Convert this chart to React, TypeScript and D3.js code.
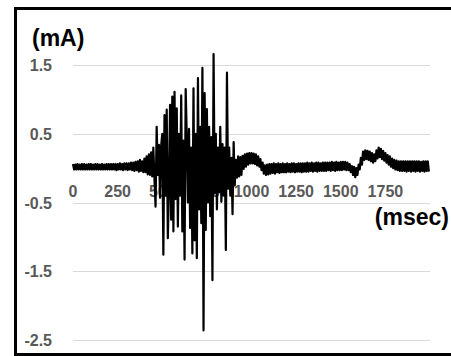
import React, { useEffect, useRef } from 'react';
import * as d3 from 'd3';

const TIME_STEP_MS = 6.25;
const CURRENT_MA = [
  0.06, -0.02, 0.05, -0.02, 0.06, -0.02, 0.05, -0.02, 0.06, -0.02, 0.06, -0.02, 0.05, -0.02, 0.06, -0.02,
  0.06, -0.02, 0.05, -0.02, 0.06, -0.02, 0.06, -0.02, 0.05, -0.02, 0.06, -0.02, 0.05, -0.02, 0.06, -0.02,
  0.06, -0.02, 0.06, -0.02, 0.06, -0.02, 0.06, -0.03, 0.06, -0.02, 0.07, -0.02, 0.06, -0.03, 0.07, -0.02,
  0.07, -0.03, 0.07, -0.02, 0.08, -0.03, 0.08, -0.04, 0.09, -0.03, 0.1, -0.05, 0.12, -0.04, 0.1, -0.06,
  0.14, -0.06, 0.17, -0.09, 0.2, -0.1, 0.23, -0.12, 0.3, -0.15, -0.56, 0.6, -0.1, 0.34, -0.43, 0.32,
  0.5, -1.26, 0.77, -0.4, 0.85, -1.02, -0.3, 0.92, -0.75, 1.04, -0.92, 1.11, -0.45, 0.87, -0.85, 0.5,
  -0.4, 1.06, -0.92, 0.4, -1.33, 1.15, 0.45, -0.5, 0.57, -0.87, 0.3, -1.24, 1.16, -1.05, 0.5, -1.31,
  1.31, -0.6, 0.6, -0.8, 1.46, -2.36, 1.09, -0.9, 0.86, -0.5, 0.6, -0.7, 0.45, -1.63, 1.66, -0.36,
  0.5, -0.6, 0.3, -0.35, 0.6, -0.49, 0.35, -0.4, 0.3, -1.19, 1.39, -0.3, 0.3, -0.4, 0.15, -0.67,
  0.38, -0.25, 0.12, -0.14, 0.17, -0.12, 0.16, -0.1, 0.18, -0.01, 0.2, 0.02, 0.21, 0.05, 0.22, 0.07,
  0.22, 0.07, 0.21, 0.06, 0.2, 0.04, 0.17, 0.02, 0.13, -0.03, 0.08, -0.08, 0.04, -0.1, 0.05, -0.09,
  0.06, -0.08, 0.06, -0.07, 0.07, -0.08, 0.06, -0.06, 0.07, -0.07, 0.06, -0.06, 0.07, -0.06, 0.06, -0.06,
  0.07, -0.05, 0.06, -0.06, 0.07, -0.05, 0.07, -0.06, 0.06, -0.05, 0.07, -0.05, 0.07, -0.06, 0.07, -0.05,
  0.07, -0.05, 0.08, -0.05, 0.07, -0.04, 0.08, -0.05, 0.07, -0.04, 0.08, -0.05, 0.08, -0.04, 0.07, -0.04,
  0.08, -0.04, 0.08, -0.04, 0.08, -0.03, 0.08, -0.04, 0.09, -0.03, 0.08, -0.04, 0.09, -0.03, 0.08, -0.03,
  0.09, -0.03, 0.09, -0.02, 0.09, -0.03, 0.08, -0.03, 0.06, -0.06, 0.03, -0.1, 0.02, -0.13, 0.0, -0.1,
  0.05, -0.02, 0.15, 0.05, 0.24, 0.12, 0.26, 0.13, 0.25, 0.12, 0.24, 0.1, 0.22, 0.08, 0.2, 0.1,
  0.26, 0.14, 0.3, 0.16, 0.28, 0.13, 0.25, 0.11, 0.22, 0.08, 0.19, 0.05, 0.17, 0.02, 0.14, 0.0,
  0.12, -0.02, 0.11, -0.03, 0.1, -0.04, 0.1, -0.04, 0.1, -0.04, 0.1, -0.05, 0.1, -0.04, 0.1, -0.05,
  0.1, -0.04, 0.1, -0.05, 0.1, -0.04, 0.1, -0.05, 0.09, -0.04, 0.1, -0.05, 0.1, -0.04, 0.1, -0.05,
];
const X_TICKS = [0, 250, 500, 750, 1000, 1250, 1500, 1750];
const Y_TICKS = [-2.5, -1.5, -0.5, 0.5, 1.5];

const FONT = '"Liberation Sans", Arial, sans-serif';

export default function App() {
  const ref = useRef<SVGSVGElement>(null);

  useEffect(() => {
    if (!ref.current) return;
    const svg = d3.select(ref.current);
    svg.selectAll('*').remove();

    const x = d3.scaleLinear().domain([0, 2000]).range([73, 430]);
    const y = d3.scaleLinear().domain([-2.5, 1.5]).range([340, 65]);

    // frame
    svg.append('rect')
      .attr('x', 15.5)
      .attr('y', 8.5)
      .attr('width', 450)
      .attr('height', 346)
      .attr('fill', 'white')
      .attr('stroke', 'black')
      .attr('stroke-width', 3);

    // gridlines
    svg.append('g')
      .selectAll('line')
      .data(Y_TICKS)
      .enter()
      .append('line')
      .attr('x1', x(0))
      .attr('x2', x(2000))
      .attr('y1', d => Math.round(y(d)) + 0.5)
      .attr('y2', d => Math.round(y(d)) + 0.5)
      .attr('stroke', '#d9d9d9')
      .attr('stroke-width', 1);

    // y labels
    svg.append('g')
      .selectAll('text')
      .data(Y_TICKS)
      .enter()
      .append('text')
      .text(d => d.toFixed(1))
      .attr('x', 52)
      .attr('y', d => y(d) + 6)
      .attr('text-anchor', 'end')
      .attr('font-family', FONT)
      .attr('font-weight', 'bold')
      .attr('font-size', '16px')
      .attr('fill', '#595959');

    // x labels along zero
    svg.append('g')
      .selectAll('text')
      .data(X_TICKS)
      .enter()
      .append('text')
      .text(d => String(d))
      .attr('x', d => x(d))
      .attr('y', y(0) + 29)
      .attr('text-anchor', 'middle')
      .attr('font-family', FONT)
      .attr('font-weight', 'bold')
      .attr('font-size', '16px')
      .attr('fill', '#595959');

    // signal
    const line = d3.line<number>()
      .x((_, i) => x(i * TIME_STEP_MS))
      .y(d => y(d));

    svg.append('path')
      .datum(CURRENT_MA)
      .attr('d', line)
      .attr('fill', 'none')
      .attr('stroke', 'black')
      .attr('stroke-width', 2.2)
      .attr('stroke-linejoin', 'round');

    // axis titles
    svg.append('text')
      .text('(mA)')
      .attr('x', 32)
      .attr('y', 46)
      .attr('font-family', FONT)
      .attr('font-weight', 'bold')
      .attr('font-size', '23px')
      .attr('fill', 'black');

    svg.append('text')
      .text('(msec)')
      .attr('x', 449)
      .attr('y', 225)
      .attr('text-anchor', 'end')
      .attr('font-family', FONT)
      .attr('font-weight', 'bold')
      .attr('font-size', '23px')
      .attr('fill', 'black');
  }, []);

  return (
    <svg
      ref={ref}
      width={451}
      height={356}
      style={{ position: 'fixed', left: 0, top: 0, background: 'white' }}
    />
  );
}
